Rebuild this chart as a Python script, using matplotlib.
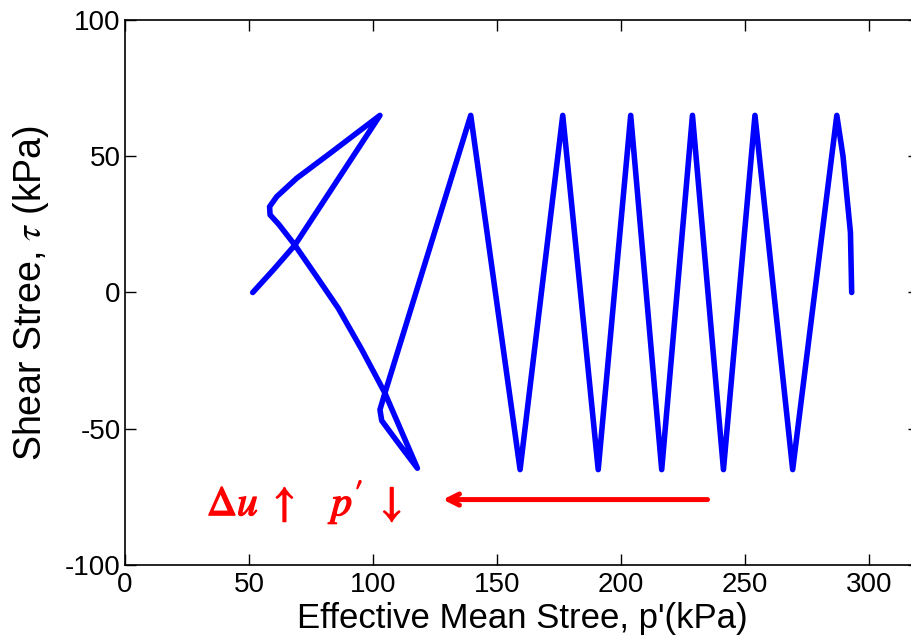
import matplotlib
matplotlib.use("Agg")
import matplotlib.pyplot as plt
import matplotlib.patheffects as pe

plt.rcParams['font.family'] = ['Liberation Sans', 'DejaVu Sans']
plt.rcParams['axes.unicode_minus'] = False
plt.rcParams['mathtext.fontset'] = 'stix'

# stress path: p' (kPa), tau (kPa)
p_eff = [51.5, 60.0, 68.5, 85.5, 102.8,
         82.7, 69.2, 61.2, 58.3, 58.5, 62.0, 68.5, 77.3, 86.0, 95.5, 104.8, 117.9,
         110.0, 103.5, 102.8, 104.8, 139.4,
         159.3, 176.5, 190.8, 203.9, 216.4, 228.8, 241.3, 254.0, 269.2, 287.0,
         289.5, 292.5, 293.0]
tau = [0.0, 8.5, 17.4, 41.0, 65.0,
       51.1, 41.9, 35.2, 31.5, 28.5, 25.0, 17.4, 5.8, -5.8, -21.0, -36.9, -64.5,
       -55.0, -47.0, -43.0, -36.9, 65.0,
       -65.0, 65.0, -65.0, 65.0, -65.0, 65.0, -65.0, 65.0, -65.0, 65.0,
       50.0, 22.0, 0.0]

x_ticks = [0, 50, 100, 150, 200, 250, 300]
y_ticks = [-100, -50, 0, 50, 100]

fig = plt.figure(figsize=(9.11, 6.41), dpi=100)
ax = fig.add_axes([0.1372, 0.1186, 0.8712, 0.8502])

ax.plot(p_eff, tau, color='#0000ff', lw=4.0, solid_joinstyle='round',
        solid_capstyle='round')

ax.annotate('', xy=(127, -76), xytext=(236, -76),
            arrowprops=dict(arrowstyle='->, head_length=0.8, head_width=0.4',
                            color='red', lw=3.6))
ax.text(33, -77, r"$\Delta u\ \uparrow\ \ \ p'\ \downarrow$", color='red',
        fontsize=30, va='center', ha='left',
        path_effects=[pe.withStroke(linewidth=1.0, foreground='red')])

ax.set_xlim(0, 320)
ax.set_ylim(-100, 100)
ax.set_xticks(x_ticks)
ax.set_yticks(y_ticks)
ax.tick_params(direction='in', length=8, width=1, labelsize=20,
               top=True, right=True)
ax.tick_params(axis='x', pad=5)
ax.tick_params(axis='y', pad=3)
for s in ax.spines.values():
    s.set_linewidth(1.2)

ax.set_xlabel("Effective Mean Stree, p'(kPa)", fontsize=25, labelpad=3)
ax.set_ylabel("Shear Stree, $\\tau$ (kPa)", fontsize=27, labelpad=10)

fig.savefig('out.png', dpi=100)
